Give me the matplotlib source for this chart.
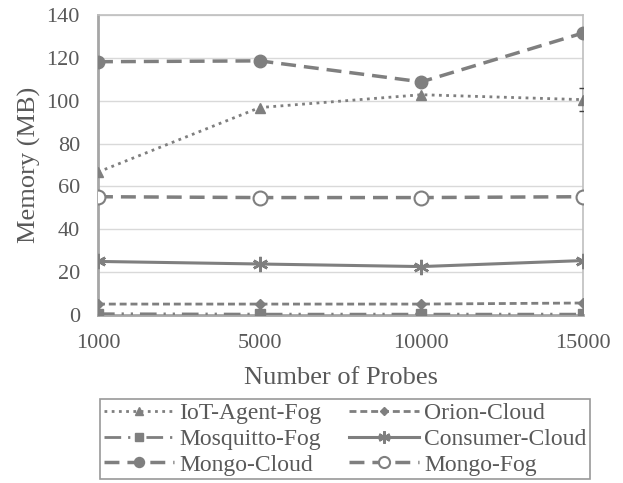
import matplotlib.pyplot as plt
import numpy as np

plt.rcParams['font.family'] = ['Liberation Serif', 'DejaVu Serif']

#data
probes = ['1000', '5000', '10000', '15000']
iot_agent_fog = [66.7, 96.8, 102.8, 100.5]
iot_err = [0, 0, 0, 5.3]
orion_cloud = [5.1, 5.1, 5.1, 5.6]
mosquitto_fog = [0.6, 0.4, 0.4, 0.4]
consumer_cloud = [25, 23.8, 22.6, 25.4]
mongo_cloud = [118.2, 118.6, 108.8, 131.6]
mongo_fog = [55.2, 54.8, 54.8, 55.2]

col = '#7f7f7f'
txt = '#595959'
x = np.arange(len(probes))

fig = plt.figure(figsize=(6.23, 4.83), dpi=100)
ax = fig.add_axes([98/623, 1-315/483, 485/623, 300/483])

h_iot, = ax.plot(x, iot_agent_fog, color=col, ls=(0, (1, 1.6)), lw=2, marker='^', ms=7,
                 label='IoT-Agent-Fog', zorder=3)
ax.errorbar(x[3:], iot_agent_fog[3:], yerr=iot_err[3:], fmt='none', ecolor='#404040',
            capsize=3, elinewidth=1, zorder=3)
h_ori, = ax.plot(x, orion_cloud, color=col, ls=(0, (2.5, 1.4)), lw=2, marker='D', ms=5.5,
                 label='Orion-Cloud', zorder=3)
h_mos, = ax.plot(x, mosquitto_fog, color=col, ls=(0, (6, 2.5, 0.8, 2.5, 0.8, 2.5)), lw=2,
                 marker='s', ms=7, label='Mosquitto-Fog', zorder=3)
h_con, = ax.plot(x, consumer_cloud, color=col, ls='-', lw=2.2, marker=(6, 2, 0), ms=11,
                 mew=1.8, label='Consumer-Cloud', zorder=3)
h_mc, = ax.plot(x, mongo_cloud, color=col, ls=(0, (4.3, 2.3)), lw=2.5, marker='o', ms=9,
                label='Mongo-Cloud', zorder=3)
h_mf, = ax.plot(x, mongo_fog, color=col, ls=(0, (4.3, 2.3)), lw=2.5, marker='o', ms=10,
                mfc='white', mew=1.5, label='Mongo-Fog', zorder=3)

ax.set_xlim(0, 3)
ax.set_ylim(0, 140)
ax.set_xticks(x)
ax.set_xticklabels(probes)
ax.set_yticks(np.arange(0, 141, 20))
ax.yaxis.grid(True, color='#d9d9d9', lw=1)
ax.set_axisbelow(True)
ax.tick_params(length=0, labelsize=16, labelcolor=txt)
ax.tick_params(axis='y', pad=13)
ax.tick_params(axis='x', pad=14)
for s in ax.spines.values():
    s.set_color('#bfbfbf')
    s.set_linewidth(1.2)
for s in ['left', 'bottom']:
    ax.spines[s].set_color('#a6a6a6')
    ax.spines[s].set_linewidth(2)
ax.set_xlabel('Number of Probes', fontsize=19, color=txt, labelpad=10)
ax.set_ylabel('Memory (MB)', fontsize=19, color=txt, labelpad=4)

#legend goes row by row: reorder for matplotlib's column filling
handles = [h_iot, h_mos, h_mc, h_ori, h_con, h_mf]
leg = fig.legend(handles=handles, labels=[h.get_label() for h in handles],
                 loc='upper left', bbox_to_anchor=(100/623, 1-399/483, 490/623, 0),
                 mode='expand', borderaxespad=0, ncol=2, fontsize=17, frameon=True,
                 fancybox=False, edgecolor=col, handlelength=3.0, columnspacing=0.5,
                 borderpad=0.15, labelspacing=0.18, handletextpad=0.2, markerscale=0.8)
leg.get_frame().set_linewidth(1.2)
for t in leg.get_texts():
    t.set_color(txt)

fig.savefig('out.png', dpi=100)
